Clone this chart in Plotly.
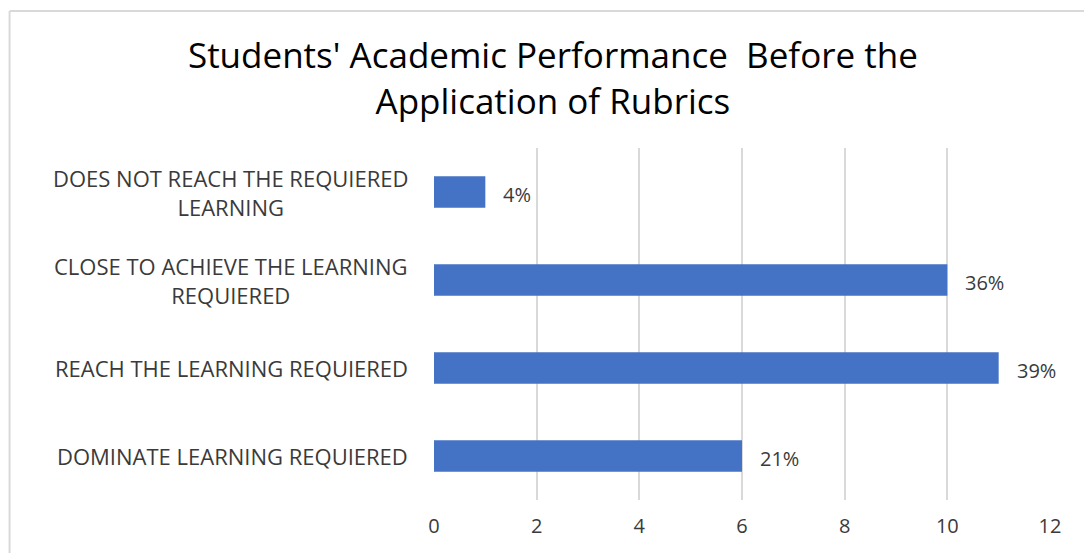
import plotly.graph_objects as go

categories = [
    "DOES NOT REACH THE REQUIERED<br>LEARNING",
    "CLOSE TO ACHIEVE THE LEARNING<br>REQUIERED",
    "REACH THE LEARNING REQUIERED",
    "DOMINATE LEARNING REQUIERED",
]
counts = [1, 10, 11, 6]
pct_labels = ["4%", "36%", "39%", "21%"]
x_ticks = [0, 2, 4, 6, 8, 10, 12]

FONT = "'Open Sans', Lato, sans-serif"
BAR = "#4472C4"
GRID = "#d9d9d9"
TXT = "#3a3a3a"

fig = go.Figure(
    go.Bar(
        x=counts,
        y=categories,
        orientation="h",
        marker=dict(color=BAR, line=dict(width=0)),
        width=0.36,
        hoverinfo="skip",
    )
)

# value labels, set a little away from the bar ends
for cat, val, lab in zip(categories, counts, pct_labels):
    fig.add_annotation(
        x=val, y=cat, text=lab, showarrow=False,
        xanchor="left", xshift=16, yshift=-2,
        font=dict(size=20, color=TXT, family=FONT),
    )

# category labels as centred annotations (plotly tick labels cannot be centre-aligned)
for cat in categories:
    fig.add_annotation(
        x=-0.039, xref="paper", y=cat, yref="y",
        text=cat, showarrow=False, xanchor="right", align="center",
        font=dict(size=22, color=TXT, family=FONT),
    )

# light frame around the chart area
fig.add_shape(type="line", xref="paper", yref="paper",
              x0=-0.689, x1=1.2, y0=1.389, y1=1.389, line=dict(color=GRID, width=2))
fig.add_shape(type="line", xref="paper", yref="paper",
              x0=-0.689, x1=-0.689, y0=1.389, y1=-0.2, line=dict(color=GRID, width=2))

fig.update_layout(
    width=1092,
    height=553,
    margin=dict(l=426, r=50, t=140, b=61),
    paper_bgcolor="white",
    plot_bgcolor="white",
    showlegend=False,
    title=dict(
        text="Students' Academic Performance  Before the<br>Application of Rubrics",
        x=0.499, xanchor="center", y=0.891, yanchor="middle",
        font=dict(size=35, color="#000000", family=FONT),
    ),
    xaxis=dict(
        range=[0, 12],
        tickvals=x_ticks,
        showgrid=True, gridcolor=GRID, gridwidth=2,
        zeroline=False, showline=False,
        tickfont=dict(size=20, color=TXT, family=FONT),
        ticks="", ticklabelstandoff=12,
    ),
    yaxis=dict(
        categoryorder="array", categoryarray=categories,
        autorange="reversed",
        showticklabels=False, showgrid=False, zeroline=False,
    ),
)

fig.write_html("out.html")
